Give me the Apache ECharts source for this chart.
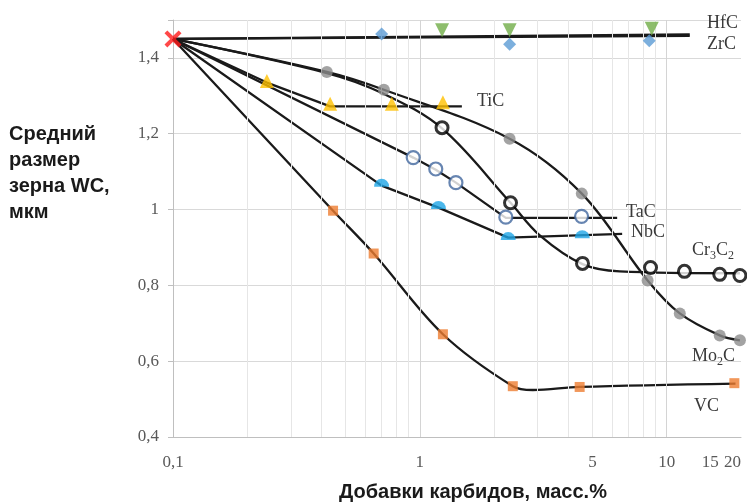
<!DOCTYPE html>
<html>
<head>
<meta charset="utf-8">
<script src="https://cdn.jsdelivr.net/npm/echarts@6/dist/echarts.min.js"></script>
<style>html,body{margin:0;padding:0;background:#fff}#c{width:747px;height:504px}</style>
</head>
<body>
<div id="c"></div>
<script>
// ---- data ----
const xTickValues = [0.1, 1, 5, 10, 15, 20];
const xTickLabels = ['0,1', '1', '5', '10', '15', '20'];
const yTickValues = [0.4, 0.6, 0.8, 1.0, 1.2, 1.4];
const minorGrid = [0.2, 0.3, 0.4, 0.5, 0.6, 0.7, 0.8, 0.9, 2, 3, 4, 5, 6, 7, 8, 9];
const majorGrid = [1, 10];

const startPoint = [[0.1, 1.45]];

const hfcLine = [[0.1, 1.45], [12.4, 1.462]];
const hfcPoints = [[1.23, 1.473], [2.31, 1.473], [8.7, 1.477]];

const zrcLine = [[0.1, 1.45], [12.4, 1.458]];
const zrcPoints = [[0.70, 1.463], [2.31, 1.436], [8.5, 1.445]];

const ticLine = [[0.1, 1.45], [0.24, 1.335], [0.433, 1.272], [1.48, 1.272]];
const ticPoints = [[0.24, 1.339], [0.433, 1.279], [0.77, 1.279], [1.24, 1.283]];

const mo2cLine = [[0.1, 1.45], [0.42, 1.363], [0.715, 1.316], [2.31, 1.187], [4.53, 1.042], [8.37, 0.813], [11.3, 0.726], [16.4, 0.668], [19.8, 0.655]];
const mo2cPoints = [[0.42, 1.363], [0.715, 1.316], [2.31, 1.187], [4.53, 1.042], [8.37, 0.813], [11.3, 0.726], [16.4, 0.668], [19.8, 0.655]];

const cr3c2Line = [[0.1, 1.45], [0.42, 1.36], [0.71, 1.306], [1.23, 1.214], [2.33, 1.018], [3.06, 0.932], [4.56, 0.856], [6.45, 0.837], [19.8, 0.832]];
const cr3c2Points = [[1.23, 1.216], [2.33, 1.018], [4.56, 0.858], [8.6, 0.847], [11.8, 0.837], [16.4, 0.829], [19.8, 0.826]];

const tacLine = [[0.1, 1.45], [0.94, 1.137], [1.16, 1.105], [1.40, 1.071], [2.23, 0.978], [6.3, 0.978]];
const tacPoints = [[0.94, 1.137], [1.16, 1.107], [1.40, 1.071], [2.23, 0.98], [4.52, 0.982]];

const nbcLine = [[0.1, 1.45], [0.70, 1.063], [1.19, 1.005], [2.28, 0.926], [6.6, 0.936]];
const nbcPoints = [[0.70, 1.071], [1.19, 1.012], [2.28, 0.930], [4.55, 0.935]];

const vcLine = [[0.1, 1.45], [0.445, 0.997], [0.65, 0.884], [1.24, 0.671], [2.38, 0.534], [2.87, 0.524], [4.44, 0.532], [19.0, 0.541]];
const vcPoints = [[0.445, 0.997], [0.65, 0.884], [1.24, 0.671], [2.38, 0.534], [4.44, 0.532], [18.8, 0.542]];

// ---- chart ----
const chart = echarts.init(document.getElementById('c'), null, {renderer: 'canvas'});
const LINE = '#1a1a1a';
const SERIF = '"Liberation Serif", "DejaVu Serif", serif';
const SANS = '"Liberation Sans", Arial, sans-serif';

function lineSeries(name, data, smooth) {
  return {
    name, type: 'line', data, smooth: smooth, showSymbol: false, symbol: 'none',
    lineStyle: {color: LINE, width: 2.3}, z: 3, silent: true
  };
}
function pointSeries(name, data, symbol, size, itemStyle, extra) {
  return Object.assign({
    name, type: 'scatter', data, symbol, symbolSize: size, itemStyle, z: 5, silent: true
  }, extra || {});
}

const semicircle = 'path://M0,7 A6.5,6.5 0 0 1 13,7 Z';
const crossX = 'path://M2,0 L6,4 L10,0 L12,2 L8,6 L12,10 L10,12 L6,8 L2,12 L0,10 L4,6 L0,2 Z';

const labelBase = {fontFamily: SERIF, fontSize: 18, fill: '#3a3a3a'};
function txt(text, x, y) {
  return {type: 'text', x, y, style: Object.assign({text, verticalAlign: 'middle'}, labelBase), z: 10};
}
function subTxt(parts, x, y) {
  return {
    type: 'text', x, y, z: 10,
    style: {
      text: parts, verticalAlign: 'middle', fontFamily: SERIF, fontSize: 18, fill: '#3a3a3a',
      rich: {
        n: {fontFamily: SERIF, fontSize: 18, fill: '#3a3a3a', lineHeight: 22, verticalAlign: 'bottom'},
        s: {fontFamily: SERIF, fontSize: 12, fill: '#3a3a3a', lineHeight: 22, verticalAlign: 'bottom', padding: [0, 0, -3, 0]}
      }
    }
  };
}

const option = {
  animation: false,
  backgroundColor: '#fff',
  grid: {left: 173, right: 6, top: 20, bottom: 67, containLabel: false},
  xAxis: {
    type: 'log', logBase: 10, min: 0.1, max: 20,
    axisLine: {show: true, lineStyle: {color: '#bfbfbf', width: 1}},
    axisTick: {show: false},
    splitLine: {show: false},
    minorTick: {show: false}, minorSplitLine: {show: false},
    axisLabel: {
      customValues: xTickValues,
      alignMaxLabel: 'right',
      margin: 17,
      color: '#595959', fontFamily: SERIF, fontSize: 17,
      formatter: function (v) {
        const i = xTickValues.findIndex(t => Math.abs(t - v) < 1e-9);
        return i >= 0 ? xTickLabels[i] : '';
      }
    }
  },
  yAxis: {
    type: 'value', min: 0.4, max: 1.5, interval: 0.2,
    axisLine: {show: true, lineStyle: {color: '#bfbfbf', width: 1}},
    axisTick: {show: true, length: 5, lineStyle: {color: '#bfbfbf'}},
    splitLine: {show: true, lineStyle: {color: '#d9d9d9', width: 1}},
    axisLabel: {
      margin: 14, color: '#595959', fontFamily: SERIF, fontSize: 17,
      formatter: function (v) {
        const r = Math.round(v * 10) / 10;
        if (!yTickValues.some(t => Math.abs(t - r) < 1e-9)) return '';
        return String(r).replace('.', ',');
      }
    }
  },
  graphic: [
    {type: 'text', x: 9, y: 121, z: 10, style: {
      text: 'Средний\nразмер\nзерна WC,\nмкм', fontFamily: SANS, fontWeight: 'bold', fontSize: 20,
      lineHeight: 26, fill: '#1a1a1a'}},
    {type: 'text', x: 473, y: 492, z: 10, style: {
      text: 'Добавки карбидов, масс.%', fontFamily: SANS, fontWeight: 'bold', fontSize: 20,
      fill: '#1a1a1a', align: 'center', verticalAlign: 'middle'}},
    txt('HfC', 707, 23),
    txt('ZrC', 707, 44),
    txt('TiC', 477, 101),
    txt('TaC', 626, 212),
    txt('NbC', 631, 232),
    subTxt('{n|Cr}{s|3}{n|C}{s|2}', 692, 248),
    subTxt('{n|Mo}{s|2}{n|C}', 692, 354),
    txt('VC', 694, 406)
  ],
  series: [
    {
      name: 'grid', type: 'line', data: [[0.1, 0.4]], showSymbol: false, symbol: 'none',
      lineStyle: {width: 0}, z: 1, silent: true,
      markLine: {
        silent: true, symbol: 'none', label: {show: false}, animation: false,
        data: minorGrid.map(v => ({xAxis: v, lineStyle: {color: '#e6e6e6', width: 1, type: 'solid'}}))
          .concat(majorGrid.map(v => ({xAxis: v, lineStyle: {color: '#d4d4d4', width: 1, type: 'solid'}})))
      }
    },
    lineSeries('HfC', hfcLine, false),
    lineSeries('ZrC', zrcLine, false),
    lineSeries('TiC', ticLine, false),
    lineSeries('Mo2C', mo2cLine, 0.35),
    lineSeries('Cr3C2', cr3c2Line, 0.35),
    lineSeries('TaC', tacLine, false),
    lineSeries('NbC', nbcLine, false),
    lineSeries('VC', vcLine, 0.35),
    pointSeries('ZrC pts', zrcPoints, 'diamond', 13, {color: '#5b9bd5'}),
    pointSeries('HfC pts', hfcPoints, 'triangle', 14, {color: '#70ad47'}, {symbolRotate: 180}),
    pointSeries('TiC pts', ticPoints, 'triangle', 14, {color: '#ffc000'}),
    pointSeries('Mo2C pts', mo2cPoints, 'circle', 12, {color: '#8c8c8c'}),
    pointSeries('Cr3C2 pts', cr3c2Points, 'circle', 12, {color: '#ffffff', borderColor: '#000000', borderWidth: 3}),
    pointSeries('TaC pts', tacPoints, 'circle', 13, {color: '#ffffff', borderColor: '#41679e', borderWidth: 2.2}),
    pointSeries('NbC pts', nbcPoints, semicircle, [15, 8], {color: '#1ea5e6'}),
    pointSeries('VC pts', vcPoints, 'rect', 10, {color: '#ed7d31'}),
    pointSeries('WC', startPoint, crossX, 17, {color: '#ff1a1a'}, {z: 6})
  ]
};
chart.setOption(option);
</script>
</body>
</html>
